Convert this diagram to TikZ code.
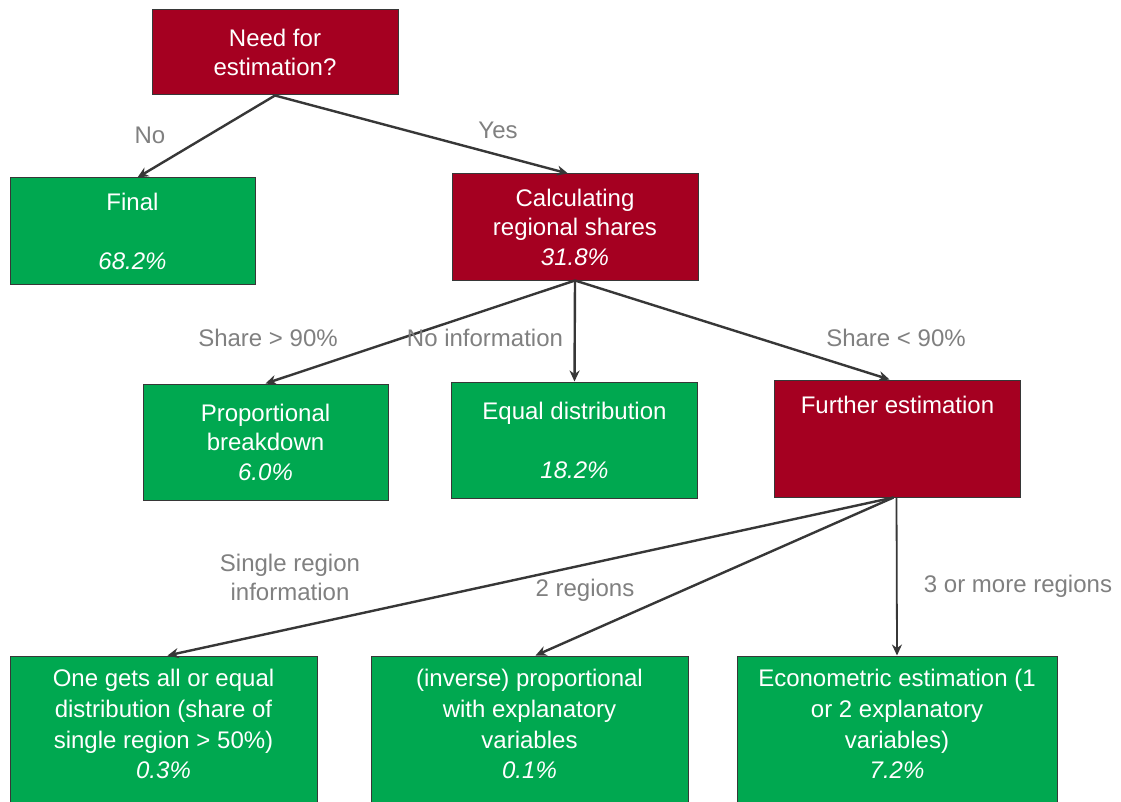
\documentclass[tikz,border=0pt]{standalone}
\usepackage{fontspec}
\setmainfont{Liberation Sans}
\usetikzlibrary{arrows.meta}
\definecolor{boxred}{RGB}{165,0,33}
\definecolor{boxgreen}{RGB}{0,168,80}
\definecolor{edgegray}{RGB}{55,55,55}
\definecolor{labelgray}{RGB}{128,128,128}
\tikzset{
  base/.style={draw=edgegray, line width=1pt, text=white, align=center, inner sep=0pt,
    font=\fontsize{24}{29.5}\selectfont},
  redbox/.style={base, fill=boxred},
  greenbox/.style={base, fill=boxgreen},
  conn/.style={draw=edgegray, line width=2.4pt, -{Stealth[length=11pt,width=10pt]}},
  lbl/.style={text=labelgray, align=center, inner sep=0pt, font=\fontsize{24}{29}\selectfont}
}
\begin{document}
\begin{tikzpicture}[x=1pt,y=-1pt]
\useasboundingbox (0,0) rectangle (1121,802);
\clip (0,0) rectangle (1121,802);
\fill[white] (0,0) rectangle (1121,802);

\node[redbox, minimum width=246, minimum height=85] (top) at (275,52.5) {Need for\\estimation?};
\node[greenbox, minimum width=245, minimum height=106] (final) at (132.5,231) {Final\\\strut\\\textit{68.2\%}};
\node[redbox, minimum width=246, minimum height=106] (calc) at (575,227) {Calculating\\regional shares\\\textit{31.8\%}};
\node[greenbox, minimum width=245, minimum height=116] (prop) at (265.5,442) {Proportional\\breakdown\\\textit{6.0\%}};
\node[greenbox, minimum width=246, minimum height=116] (equal) at (574.5,440) {Equal distribution\\\strut\\\textit{18.2\%}};
\node[redbox, minimum width=246, minimum height=117] (further) at (897.5,438.5) {Further estimation\\\strut\\\strut};
\node[greenbox, minimum width=307, minimum height=176, font=\fontsize{24}{30.8}\selectfont] (onegets) at (163.5,744) {One gets all or equal\\distribution (share of\\single region > 50\%)\\\textit{0.3\%}\\\strut};
\node[greenbox, minimum width=317, minimum height=176, font=\fontsize{24}{30.8}\selectfont] (inverse) at (529.5,744) {(inverse) proportional\\with explanatory\\variables\\\textit{0.1\%}\\\strut};
\node[greenbox, minimum width=320, minimum height=176, font=\fontsize{24}{30.8}\selectfont] (econ) at (897,744) {Econometric estimation (1\\or 2 explanatory\\variables)\\\textit{7.2\%}\\\strut};

\draw[conn] (top.south) -- ([xshift=5]final.north);
\draw[conn] (top.south) -- ([xshift=-7]calc.north);
\draw[conn] (calc.south) -- (prop.north);
\draw[conn] (calc.south) -- (equal.north);
\draw[conn] (calc.south) -- ([xshift=-8]further.north);
\draw[conn] ([xshift=-4]further.south) -- ([xshift=4]onegets.north);
\draw[conn] ([xshift=-4]further.south) -- ([xshift=6]inverse.north);
\draw[conn, line width=1.8pt] ([xshift=-1]further.south) -- (econ.north);

\node[lbl] (lno) at (150,135) {No};
\node[lbl] (lyes) at (498,130) {Yes};
\node[lbl] (lgt) at (268,338) {Share > 90\%};
\node[lbl] (lnoinfo) at (485,338) {No information};
\node[lbl] (llt) at (896,338) {Share < 90\%};
\node[lbl] (lsingle) at (290,577) {Single region\\information};
\node[lbl] (ltwo) at (585,590) {2 regions};
\node[lbl] (lthree) at (1018,586) {3 or more regions};
\end{tikzpicture}
\end{document}
